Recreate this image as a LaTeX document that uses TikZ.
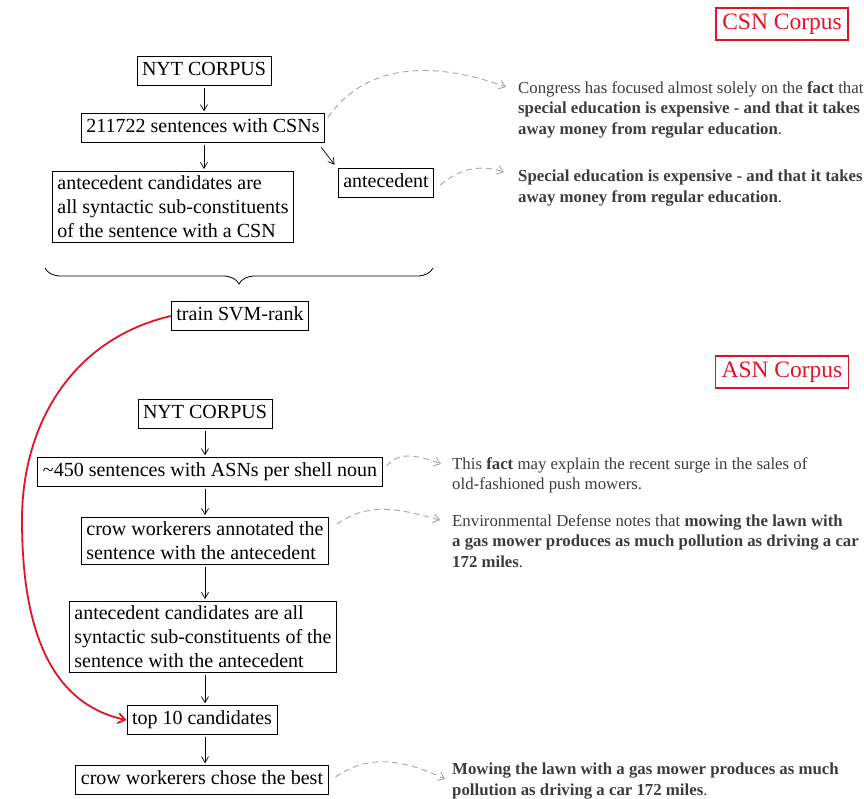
\documentclass[tikz,border=0pt]{standalone}
\usepackage{fontspec}
\setmainfont{Liberation Serif}
\usetikzlibrary{arrows.meta,decorations.pathreplacing,calc}
\definecolor{redline}{RGB}{225,20,35}
\definecolor{txtgray}{RGB}{60,60,60}
\definecolor{arcgray}{RGB}{165,165,165}
\begin{document}
\begin{tikzpicture}[x=1pt,y=1pt,
  box/.style={draw,line width=0.9pt,inner xsep=5pt,inner ysep=4.5pt,font=\fontsize{20}{24}\selectfont,align=left},
  boxs/.style={box,text height=14.5pt,text depth=5pt},
  redbox/.style={draw=redline,text=redline,line width=1.6pt,inner xsep=6pt,inner ysep=5pt,font=\fontsize{23.5}{28}\selectfont,text height=16pt,text depth=5.5pt},
  arr/.style={-{Straight Barb[length=6pt,width=7pt]},line width=0.7pt,shorten >=2pt,shorten <=2pt},
  darc/.style={arcgray,dashed,dash pattern=on 6pt off 4pt,line width=0.9pt,-{Straight Barb[length=6pt,width=9pt]}},
  redarr/.style={redline,line width=1.8pt,-{Straight Barb[length=7pt,width=10pt]}},
  sidetext/.style={anchor=north west,inner sep=0pt,align=left,text=txtgray,font=\fontsize{16.8}{20.8}\selectfont}]
\useasboundingbox (0,0) rectangle (864,-798);

% CSN part
\node[redbox] (csn) at (782,-24) {CSN Corpus};
\node[boxs] (nyt1) at (204,-71) {NYT CORPUS};
\node[boxs] (sent1) at (203,-128) {211722 sentences with CSNs};
\node[box] (cand1) at (173,-207) {antecedent candidates are\\all syntactic sub-constituents\\of the sentence with a CSN};
\node[boxs] (ante) at (386,-183) {antecedent};

\draw[arr] (nyt1.south) -- (nyt1.south |- sent1.north);
\draw[arr] (sent1.south -| nyt1) -- (cand1.north -| nyt1);
\draw[arr] ($(sent1.south east)+(-5,-3)$) -- ($(ante.north west)+(-2,2)$);

\node[sidetext] (t1) at (518,-81) {Congress has focused almost solely on the \textbf{fact} that\\\textbf{special education is expensive - and that it takes}\\\textbf{away money from regular education}.};
\node[sidetext] (t2) at (518,-170) {\textbf{Special education is expensive - and that it takes}\\\textbf{away money from regular education}.};

\coordinate (e1) at (506,-87);
\coordinate (e2) at (504,-172);
\draw[darc] ($(sent1.north east)+(3,-4)$) to[out=55,in=160] (e1);
\draw[darc] ($(ante.east)+(6,-2)$) to[out=40,in=162] (e2);

\coordinate (bl) at (45,-268);
\coordinate (br) at (433,-268);
\draw[line width=0.8pt,decorate,decoration={brace,amplitude=16pt,mirror}] (bl) -- (br);

\node[boxs] (svm) at (240,-316) {train SVM-rank};

% ASN part
\node[redbox] (asn) at (782,-372) {ASN Corpus};
\node[boxs] (nyt2) at (205,-414) {NYT CORPUS};
\node[boxs] (sent2) at (210,-472) {\textasciitilde450 sentences with ASNs per shell noun};
\node[box] (crow1) at (205,-541) {crow workerers annotated the\\sentence with the antecedent};
\node[box] (cand2) at (203,-637) {antecedent candidates are all\\syntactic sub-constituents of the\\sentence with the antecedent};
\node[boxs] (top) at (202,-720) {top 10 candidates};
\node[boxs] (best) at (202,-780) {crow workerers chose the best};

\draw[arr] (nyt2.south) -- (nyt2.south |- sent2.north);
\draw[arr] (sent2.south -| nyt2) -- (crow1.north -| nyt2);
\draw[arr] (crow1.south -| nyt2) -- (cand2.north -| nyt2);
\draw[arr] (cand2.south -| nyt2) -- (top.north -| nyt2);
\draw[arr] (top.south -| nyt2) -- (best.north -| nyt2);

\node[sidetext] (t3) at (452,-457) {This \textbf{fact} may explain the recent surge in the sales of\\old-fashioned push mowers.};
\node[sidetext] (t4) at (452,-514) {Environmental Defense notes that \textbf{mowing the lawn with}\\\textbf{a gas mower produces as much pollution as driving a car}\\\textbf{172 miles}.};
\node[sidetext] (t5) at (452,-763) {\textbf{Mowing the lawn with a gas mower produces as much}\\\textbf{pollution as driving a car 172 miles}.};

\coordinate (e3) at (441,-464);
\coordinate (e4) at (440,-520);
\coordinate (e5) at (445,-779);
\draw[darc] ($(sent2.east)+(4,6)$) to[out=50,in=160] (e3);
\draw[darc] ($(crow1.north east)+(8,-7)$) to[out=35,in=165] (e4);
\draw[darc] ($(best.east)+(7,3)$) to[out=35,in=155] (e5);

% red curve
\coordinate (rc) at (22,-520);
\draw[redarr] (svm.west) to[out=193,in=90] (rc) to[out=-90,in=168] (top.west);
\end{tikzpicture}
\end{document}
